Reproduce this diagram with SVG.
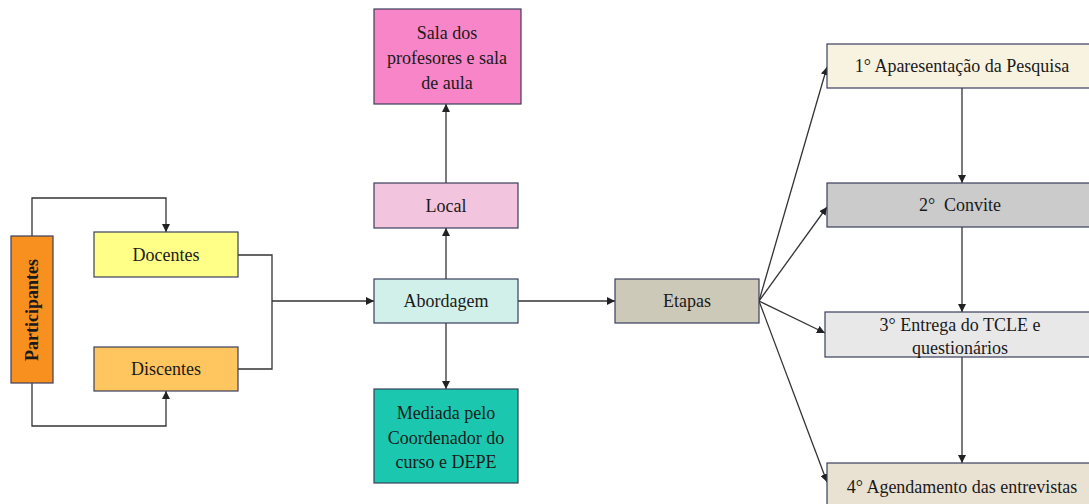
<svg xmlns="http://www.w3.org/2000/svg" width="1089" height="504" viewBox="0 0 1089 504">
  <style>
    .box { stroke: #3a3f5c; stroke-width: 1.2; }
    .lbl { font-family: "Liberation Serif", "Times New Roman", serif; font-size: 18px; fill: #1a1a1a; text-anchor: middle; }
    .bold { font-weight: bold; }
    .wire { fill: none; stroke: #333; stroke-width: 1.3; }
    .arr { marker-end: url(#head); }
  </style>
  <defs>
    <marker id="head" viewBox="0 0 10 10" refX="10" refY="5" markerWidth="8" markerHeight="8" markerUnits="userSpaceOnUse" orient="auto">
      <path d="M0,0 L10,5 L0,10 z" fill="#222"/>
    </marker>
  </defs>
  <rect width="1089" height="504" fill="#fff"/>

  <g id="connectors">
    <!-- Participantes to Docentes / Discentes -->
    <path class="wire arr" d="M32,236 V198 H166 V232"/>
    <path class="wire arr" d="M32,383 V426 H166 V391"/>
    <!-- Docentes and Discentes merge into Abordagem -->
    <path class="wire" d="M238,255 H272 V369 H238"/>
    <path class="wire arr" d="M272,301 H374"/>
    <!-- Abordagem branches -->
    <path class="wire arr" d="M446,279 V228"/>
    <path class="wire arr" d="M446,183 V104"/>
    <path class="wire arr" d="M446,323 V389"/>
    <path class="wire arr" d="M518,301 H615"/>
    <!-- Etapas fan-out -->
    <path class="wire arr" d="M759,301 L827,67"/>
    <path class="wire arr" d="M759,301 L827,207"/>
    <path class="wire arr" d="M759,301 L825,333"/>
    <path class="wire arr" d="M759,301 L827,482"/>
    <!-- step sequence -->
    <path class="wire arr" d="M962,88 V183"/>
    <path class="wire arr" d="M962,227 V312"/>
    <path class="wire arr" d="M962,357 V463"/>
  </g>

  <g id="participantes">
    <rect class="box" x="11" y="236" width="42" height="147" fill="#f7901e"/>
    <text class="lbl bold" transform="translate(38,310) rotate(-90)">Participantes</text>
  </g>
  <g id="docentes">
    <rect class="box" x="94" y="232" width="144" height="45" fill="#ffff88"/>
    <text class="lbl" x="166" y="261">Docentes</text>
  </g>
  <g id="discentes">
    <rect class="box" x="94" y="347" width="144" height="44" fill="#ffc55e"/>
    <text class="lbl" x="166" y="375">Discentes</text>
  </g>
  <g id="sala">
    <rect class="box" x="374" y="9" width="147" height="95" fill="#f785c8"/>
    <text class="lbl" x="447" y="39">Sala dos</text>
    <text class="lbl" x="447" y="64">profesores e sala</text>
    <text class="lbl" x="447" y="89">de aula</text>
  </g>
  <g id="local">
    <rect class="box" x="374" y="183" width="144" height="45" fill="#f2c4dd"/>
    <text class="lbl" x="446" y="212">Local</text>
  </g>
  <g id="abordagem">
    <rect class="box" x="374" y="279" width="144" height="44" fill="#d2f0ea"/>
    <text class="lbl" x="446" y="307">Abordagem</text>
  </g>
  <g id="mediada">
    <rect class="box" x="374" y="389" width="144" height="94" fill="#1bc8af"/>
    <text class="lbl" x="446" y="419">Mediada pelo</text>
    <text class="lbl" x="446" y="444">Coordenador do</text>
    <text class="lbl" x="446" y="468">curso e DEPE</text>
  </g>
  <g id="etapas">
    <rect class="box" x="615" y="279" width="144" height="44" fill="#cdc9b9"/>
    <text class="lbl" x="687" y="307">Etapas</text>
  </g>
  <g id="etapa1">
    <rect class="box" x="827" y="44" width="272" height="44" fill="#f8f2e0"/>
    <text class="lbl" x="962" y="72">1° Aparesentação da Pesquisa</text>
  </g>
  <g id="etapa2">
    <rect class="box" x="827" y="183" width="272" height="44" fill="#cbcbcb"/>
    <text class="lbl" x="960" y="211" xml:space="preserve">2°  Convite</text>
  </g>
  <g id="etapa3">
    <rect class="box" x="825" y="312" width="274" height="45" fill="#e8e8e8"/>
    <text class="lbl" x="960" y="331">3° Entrega do TCLE e</text>
    <text class="lbl" x="960" y="354">questionários</text>
  </g>
  <g id="etapa4">
    <rect class="box" x="827" y="463" width="272" height="50" fill="#e9e1d2"/>
    <text class="lbl" x="962" y="493">4° Agendamento das entrevistas</text>
  </g>
</svg>
